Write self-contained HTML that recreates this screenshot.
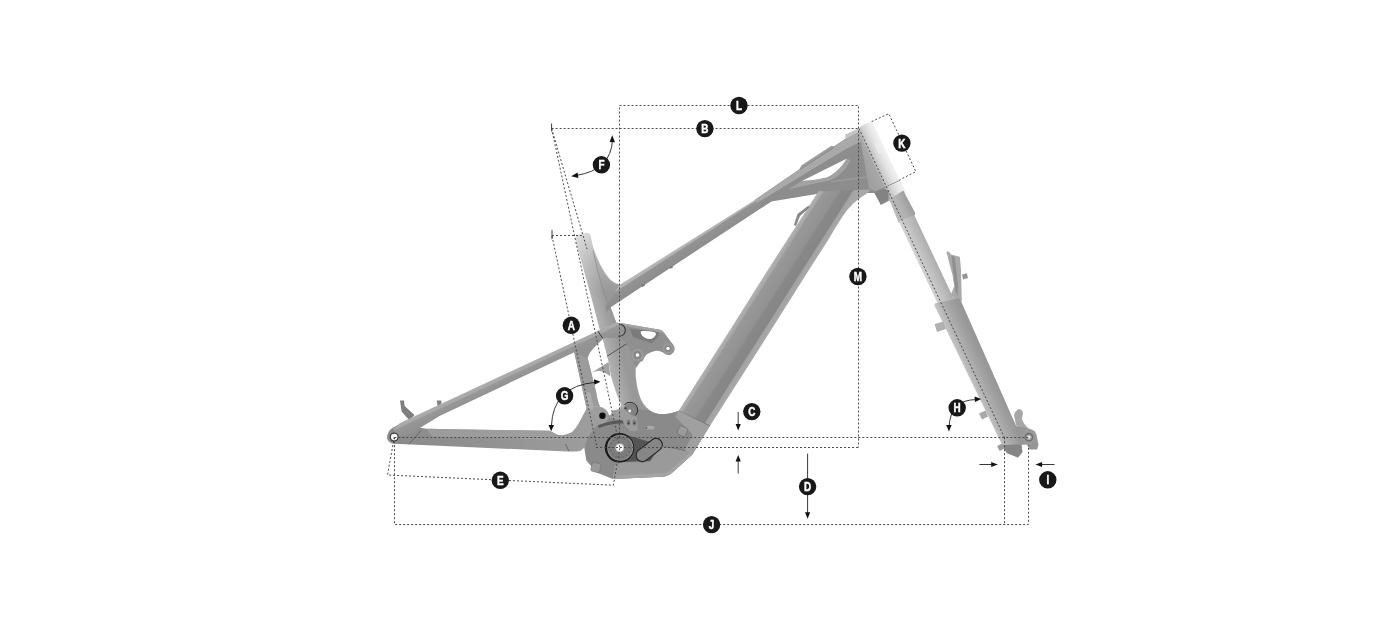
<!DOCTYPE html>
<html lang="en">
<head>
<meta charset="utf-8">
<title>Frame geometry</title>
<style>
  html, body { margin: 0; padding: 0; background: #ffffff; }
  body { width: 1400px; height: 627px; overflow: hidden; font-family: "Liberation Sans", sans-serif; }
  svg { display: block; }
  .d { fill: none; stroke: #4c4c4c; stroke-width: 1; stroke-dasharray: 2 2; }
  .s { fill: none; stroke: #222; stroke-width: 0.9; }
  .ah { fill: #111; }
  .lb circle { fill: #181818; }
  .lb text { fill: #fff; stroke: #fff; stroke-width: 0.45px; font-family: "Liberation Sans", sans-serif; font-weight: bold; font-size: 12.4px; text-anchor: middle; }
</style>
</head>
<body>
<svg width="1400" height="627" viewBox="0 0 1400 627">
  <defs>
    <linearGradient id="gHead" gradientUnits="userSpaceOnUse" x1="875" y1="191.2" x2="899.5" y2="179.6">
      <stop offset="0" stop-color="#a0a0a0"/>
      <stop offset="0.37" stop-color="#a8a8a8"/>
      <stop offset="0.44" stop-color="#bebebe"/>
      <stop offset="0.62" stop-color="#d6d6d6"/>
      <stop offset="0.82" stop-color="#e8e8e8"/>
      <stop offset="1" stop-color="#f2f2f2"/>
    </linearGradient>
    <linearGradient id="gDown" gradientUnits="userSpaceOnUse" x1="748.9" y1="300" x2="778.1" y2="318.6">
      <stop offset="0" stop-color="#b2b2b2"/>
      <stop offset="0.11" stop-color="#a8a8a8"/>
      <stop offset="0.15" stop-color="#989898"/>
      <stop offset="0.5" stop-color="#929292"/>
      <stop offset="0.57" stop-color="#888888"/>
      <stop offset="0.82" stop-color="#868686"/>
      <stop offset="0.86" stop-color="#a3a3a3"/>
      <stop offset="1" stop-color="#a8a8a8"/>
    </linearGradient>
    <linearGradient id="gFork" gradientUnits="userSpaceOnUse" x1="934" y1="295" x2="951.5" y2="286.8">
      <stop offset="0" stop-color="#d2d2d2"/>
      <stop offset="0.3" stop-color="#c4c4c4"/>
      <stop offset="0.7" stop-color="#b3b3b3"/>
      <stop offset="1" stop-color="#a4a4a4"/>
    </linearGradient>
    <linearGradient id="gFork2" gradientUnits="userSpaceOnUse" x1="893" y1="210" x2="910" y2="202">
      <stop offset="0" stop-color="#bcbcbc"/>
      <stop offset="0.5" stop-color="#b0b0b0"/>
      <stop offset="1" stop-color="#9c9c9c"/>
    </linearGradient>
    <linearGradient id="gLeg" gradientUnits="userSpaceOnUse" x1="956" y1="350" x2="981" y2="338.3">
      <stop offset="0" stop-color="#c4c4c4"/>
      <stop offset="0.22" stop-color="#b2b2b2"/>
      <stop offset="0.6" stop-color="#9e9e9e"/>
      <stop offset="0.86" stop-color="#959595"/>
      <stop offset="1" stop-color="#a6a6a6"/>
    </linearGradient>
    <linearGradient id="gTop" gradientUnits="userSpaceOnUse" x1="700" y1="234.5" x2="706.4" y2="244.4">
      <stop offset="0" stop-color="#b8b8b8"/>
      <stop offset="0.16" stop-color="#b0b0b0"/>
      <stop offset="0.24" stop-color="#939393"/>
      <stop offset="1" stop-color="#8d8d8d"/>
    </linearGradient>
    <linearGradient id="gStay" gradientUnits="userSpaceOnUse" x1="500" y1="376.4" x2="504.4" y2="385.8">
      <stop offset="0" stop-color="#adadad"/>
      <stop offset="0.33" stop-color="#a7a7a7"/>
      <stop offset="0.42" stop-color="#979797"/>
      <stop offset="1" stop-color="#929292"/>
    </linearGradient>
    <linearGradient id="gSeat" gradientUnits="userSpaceOnUse" x1="580" y1="262" x2="597" y2="257.5">
      <stop offset="0" stop-color="#b4b4b4"/>
      <stop offset="0.5" stop-color="#a6a6a6"/>
      <stop offset="1" stop-color="#989898"/>
    </linearGradient>
    <linearGradient id="gSeatFade" gradientUnits="userSpaceOnUse" x1="0" y1="232" x2="0" y2="292">
      <stop offset="0" stop-color="#ffffff" stop-opacity="0.62"/>
      <stop offset="0.5" stop-color="#ffffff" stop-opacity="0.25"/>
      <stop offset="1" stop-color="#ffffff" stop-opacity="0"/>
    </linearGradient>
    <linearGradient id="gChain" gradientUnits="userSpaceOnUse" x1="395" y1="0" x2="590" y2="0">
      <stop offset="0" stop-color="#8b8b8b"/>
      <stop offset="0.4" stop-color="#909090"/>
      <stop offset="1" stop-color="#9d9d9d"/>
    </linearGradient>
  </defs>

  <!-- ================= FRAME ================= -->
  <g id="frame">
    <!-- fork -->
    <g id="fork">
      <!-- crown / lower headset -->
      <path d="M873,190.5 L899.8,179.5 L903.5,187 L906.5,193 L890,200.5 L881,205 Z" fill="url(#gHead)"/>
      <path d="M874.4,192.3 L883.9,188.6 L888.7,190.9 L888.2,200.3 L880.7,204.5 L875.2,194.2 Z" fill="#838383"/>
      <path d="M874.6,191.8 L899.9,180.2" stroke="#7d7d7d" stroke-width="0.9" fill="none"/>
      <!-- upper wider section -->
      <path d="M889.2,199.5 L903.3,190.6 L915.2,213 L914.4,216 L898.8,223 Z" fill="url(#gFork2)"/>
      <!-- stanchion -->
      <path d="M898.8,221.5 L914.2,215 L957.2,306 L939.3,307 Z" fill="url(#gFork)"/>
      <!-- hose guide -->
      <path d="M946.3,251.5 L949,251.8 L951,254.5 L959.8,256.7 L961,270 L961.4,286.2 L961.8,300.6 L959,305.3 L955,300 L951,294.2 L954.3,286.2 L952.5,275 L949.5,263.9 Z" fill="#a9a9a9"/>
      <path d="M951.5,256 L954.5,256.6 L958,285 L957.5,297 L955.3,290 Z" fill="#8f8f8f"/>
      <path d="M962,274.5 L966.8,273.2 L968,278 L963.2,279.4 Z" fill="#959595"/>
      <!-- lower leg -->
      <path d="M934.5,305.5 Q934.3,303.6 936,303 L957.5,298.4 Q959.5,298.2 960.5,300 L962.2,303.8 L1016.8,427.4 L1021.3,444 L1022.4,452 L1018,457.5 L1006.8,453 L1002.3,445.2 Z" fill="url(#gLeg)"/>
      <path d="M1002.3,445.2 L1021.3,444 L1022.4,452 L1018,457.5 L1006.8,453 Z" fill="#858585"/>
      <!-- knobs -->
      <path d="M934.6,324 L943.5,321.5 L945.8,329 L937,332 Z" fill="#b0b0b0"/>
      <path d="M979,413.5 L985.5,410.5 L988,416.5 L982,419.5 Z" fill="#a8a8a8"/>
      <path d="M997.2,446 L1002,443.6 L1004.6,448.6 L999.6,451 Z" fill="#9a9a9a"/>
      <!-- lever -->
      <path d="M1014,415 Q1015,410.5 1019,409 Q1022.5,409.5 1023,413 L1021.9,419 Q1024,425 1029,428.5 L1020,431 L1016,425 Z" fill="#a6a6a6"/>
      <!-- dropout + axle -->
      <path d="M1015,426 L1029,428.8 Q1036.5,430 1037,437.5 L1038.5,445 L1037,449.5 L1029.5,449.5 L1027,444.5 L1019,445 Z" fill="#969696"/>
      <circle cx="1028.9" cy="437.2" r="7.6" fill="#9a9a9a"/>
      <circle cx="1028.9" cy="437.2" r="4.4" fill="#707070"/>
      <circle cx="1028.9" cy="437.2" r="2.8" fill="#a8a8a8"/>
      <circle cx="1028.9" cy="437.2" r="1.4" fill="#f2f2f2"/>
    </g>

    <!-- main frame -->
    <g id="main">
      <!-- seat tube + yoke -->
      <path id="seatTube" d="M575,238 Q575.5,235.5 579,234.3 L586,232.7 Q589.3,232.3 590.3,234.5 L593.5,249 L599.8,263.8 Q605,274 610,279.5 Q614,283 619.7,284.8 L610.7,307.2 L616.3,322.3 L624,335 L632,350 L635.7,364.3 L635.7,376.2 Q636.5,386 638.9,393.8 Q642,405 650,410.5 Q660,417.5 678.6,411 L700,440 L600,440 L621.3,405 L616.5,393.8 L611,376.2 L608.6,362 L602.7,339 L599.5,328.7 L592,300 Z" fill="url(#gSeat)"/>
      <path d="M573,231 L622,231 L622,292 L590,292 Z" fill="url(#gSeatFade)"/>
      <path d="M608.6,362 L591.8,372.5 Q601,368 610.4,376.6 Z" fill="#a2a2a2"/>
      <path d="M607,356.3 L626.9,343.6" stroke="#4a4a4a" stroke-width="0.9" fill="none"/>
      <path d="M593.1,249.7 C595.5,262 600,282 607.5,303" stroke="#858585" stroke-width="0.7" fill="none"/>
      <!-- top tube -->
      <path d="M604.8,307.5 L619.7,284.8 L754.9,200 L790,176 L790,190 L771.3,201.4 L610.7,307.2 L606.8,311.5 Z" fill="url(#gTop)"/>
      <path d="M641,285.6 L644.6,283.4 L645,285.6 L642.4,287 Z" fill="#7a7a7a"/>
      <path d="M669,267.6 L672.6,265.4 L673,267.4 L670.4,268.8 Z" fill="#7a7a7a"/>
      <!-- head junction -->
      <path d="M754.9,200 L799.1,169.5 L845.6,138.7 L860,131 L882,176 L875,193 L819.7,193.5 L771.3,201.6 L762,207.5 Z" fill="#8d8d8d"/>
      <path d="M754.9,200 L799.1,169.5 L845.6,138.7 L858.5,130 L862,141 L846,149 L802,175.5 L757,203 Z" fill="#a9a9a9"/>
      <path d="M799.1,169.5 L801.7,165.2 L831.4,145.8 L834.6,146.5 L833.4,148.2 L802.5,168.2 Z" fill="#9c9c9c"/>
      <path d="M800,169.6 L833.6,147.7" stroke="#7a7a7a" stroke-width="0.6" fill="none"/>
      <path d="M845.3,138.6 L845.3,134.6 L858,128.8 L860,131.5 Z" fill="#c4c4c4"/>
      <path d="M801.9,181.1 L814.6,179.8 L827.4,177.3 Q836.3,172.8 842.7,164.5 L846.5,158.8 L850.5,160 Q844,174 830.5,180.3 L815,183.4 L788,189.6 Z" fill="#a2a2a2"/>
      <path d="M801.9,181.1 L846.5,158.8 Q845,161.5 842.7,164.5 Q836.3,172.8 827.4,177.3 Q820,179 814.6,179.8 Z" fill="#ffffff"/>
      <path d="M831.2,181.6 L871,176.5" stroke="#a6a6a6" stroke-width="0.8" fill="none"/>
      <!-- down tube -->
      <path d="M818.5,191.3 L871,189.5 L866,194 Q851,203 842.8,216.3 Q836,226 828.8,239.1 L808.9,270 L771.1,330 L709.9,426 L678.9,410.6 L730,330 L767.8,270 Z" fill="url(#gDown)"/>
      <path d="M797.5,214 L808.5,205.5 L809.5,207.5 L800,216 L796,226 L794,225 Z" fill="#878787"/>
      <!-- head tube -->
      <path d="M858.6,129 Q862,124.5 868,122.8 Q871.5,122 872.8,123.2 L899.8,179.8 L875,191.4 L869,188 L864,160 Z" fill="url(#gHead)"/>
      <path d="M874.6,143.6 L877.6,142 L881.6,152.5 L878.8,154 Z" fill="#ececec"/>

      <!-- motor housing -->
      <path d="M584,446 L590,432 L598,420 L606,416 L640,409 L650,410.8 Q660,417.5 678.6,411 L709.9,425.8 L692.4,454.5 L673,472 Q668,476.5 661,476.8 L613,479 L597,472.8 L586.3,460.6 Z" fill="#8a8a8a"/>
      <path d="M678.6,411 L709.9,425.8 L692.4,454.5 L686,451 L684.4,449.5 L693,435 L675,416.5 Z" fill="#a0a0a0"/>
      <path d="M612.6,479 L614.5,466 L622,462.5 L650,462 L662,446.3 L686,451 L692.4,454.5 L673,472 Q668,476.5 661,476.8 Z" fill="#9a9a9a"/>
      <path d="M613,479 L661,476.8 Q668,476.5 673,472 L692.4,454.5 L689.5,453 L671,469.5 Q667,473 660,473.5 L613.3,475.6 Z" fill="#a4a4a4"/>
      <path d="M678.9,410.6 L709.9,425.8" stroke="#6a6a6a" stroke-width="0.7" fill="none"/>

      <!-- rocker link -->
      <path d="M620.6,323 L660,329.7 Q662,330 663.5,332 L674,345.8 Q675.5,349.5 673.4,352.5 Q671,355.5 668.3,355.1 Q665,354.5 663,352.5 Q659,350 654.8,351 Q650,352 646.5,354.6 L644,358 Q643,362 640.3,361.8 L636,368 L631,357 L630.9,351.5 L625.7,342.1 L617.4,338 Z" fill="#8f8f8f"/>
      <path d="M620.6,323 L660,329.7 Q662,330 663.5,332 L665.5,334.6 L661,332.4 L622,325.6 Z" fill="#a4a4a4"/>
      <path d="M629.9,328.7 L658.9,332.3 Q660,337 651.7,343.2 L633,337 Z" fill="#7b7b7b"/>
      <path d="M640.8,331.3 Q647,330.6 654.8,332.3 Q656.6,333.4 655.8,334.9 Q654,338 650.6,339 Q647.5,339.2 645.4,338 Q641.5,336 640.8,333.3 Z" fill="#ffffff"/>
      <circle cx="668" cy="348.4" r="5.3" fill="#9b9b9b"/>
      <circle cx="668" cy="348.4" r="3.4" fill="#868686"/>
      <circle cx="637.5" cy="355.1" r="6.3" fill="#9b9b9b"/>
      <circle cx="637.5" cy="355.1" r="4" fill="#868686"/>
      <circle cx="668" cy="348.4" r="1.7" fill="#ffffff"/>
      <circle cx="637.5" cy="355.1" r="1.8" fill="#ffffff"/>
    </g>

    <!-- rear triangle -->
    <g id="rear">
      <path d="M400,400.6 L404,400.6 L404.6,406 L414.5,415 L409.5,420.5 L401.6,411.5 Z" fill="#7e7e7e"/>
      <path d="M436.8,400.4 L441.4,400.4 L441.2,406 L437.6,406.5 Z" fill="#808080"/>
      <!-- chainstay + yoke -->
      <path d="M387,438 Q387,431.5 393,427.5 L400,424 L419,427.6 L426.3,428.7 L549.5,430.8 L557.4,434.7 L562.2,435.3 Q568,434.5 571.8,432.3 Q576,428.5 579,422.7 L586.1,409.6 L586.2,406.5 L599,406.5 Q607,408 609,415 Q609.5,421 604,423.5 L596.5,426 Q592,432 588.5,435.9 L583.8,447.9 Q580.5,451.6 576.6,451.4 L567,451.4 L394.4,443.8 Q388,443 387,438 Z" fill="url(#gChain)"/>
      <path d="M426.3,428.7 L549.5,430.8 L557.4,434.7 L558.5,440 L432,436.5 Z" fill="#a0a0a0" opacity="0.75"/>
      <path d="M408.7,444.3 L420.7,431.1" stroke="#555" stroke-width="0.7" fill="none"/>
      <path d="M565.5,444 L569,451.3" stroke="#555" stroke-width="0.7" fill="none"/>
      <!-- seat stay + strut -->
      <path d="M393.5,429 L400,423 L614.7,323 Q620,321.5 623.5,325.5 Q626.5,331 622.5,335.5 Q619,338.5 612,337.8 L603.5,338.3 L595.8,345.9 Q590,351 587.6,357.9 L596.5,393.8 Q597.5,402 600,406.5 L586.2,406.5 L574.3,352.3 L440,415.7 L419,428.5 L410,434 L396,436 Z" fill="url(#gStay)"/>
      <path d="M574.3,352.3 L587.6,357.9 L596.5,393.8 Q597.5,402 600,406.5 L586.2,406.5 Z" fill="#9b9b9b"/>
      <rect x="586.6" y="392" width="5.6" height="18" rx="2.6" transform="rotate(-12 589.4 401)" fill="#adadad"/>
      <path d="M597.9,331.1 L602.7,338.3" stroke="#3a3a3a" stroke-width="1" fill="none"/>
      <path d="M620.5,324.4 A5.9,5.9 0 0 1 618.3,336.1" stroke="#3a3a3a" stroke-width="1.1" fill="none"/>
      <!-- axle -->
      <circle cx="394.2" cy="437.1" r="4.6" fill="#3c3c3c"/>
      <circle cx="394.2" cy="437.1" r="3.3" fill="#f6f6f6"/>
    </g>

    <!-- BB + hardware -->
    <g id="bb">
      <!-- dark wedge -->
      <path d="M621.3,433.4 L647.6,441.3 L661,444 L650,461 L639.7,461.3 L621.3,462.1 Z" fill="#555555"/>
      <!-- pill -->
      <g transform="translate(649.2,450) rotate(-38)">
        <rect x="-15" y="-6.3" width="30" height="12.6" rx="6.3" ry="6.3" fill="#868686" stroke="#2a2a2a" stroke-width="1.2"/>
      </g>
      <path d="M661.2,446.5 L675,448.2 L686,451" stroke="#6c6c6c" stroke-width="0.7" fill="none"/>
      <!-- BB -->
      <circle cx="619.5" cy="447.8" r="14.7" fill="#1c1c1c"/>
      <circle cx="620.2" cy="447.8" r="13" fill="#9a9a9a"/>
      <circle cx="620.2" cy="447.8" r="12.2" fill="#7c7c7c"/>
      <circle cx="620.2" cy="447.8" r="9.6" fill="none" stroke="#5e5e5e" stroke-width="1.1" stroke-dasharray="1 2.77"/>
      <circle cx="619.8" cy="447.8" r="4.6" fill="#b8b8b8"/>
      <circle cx="619.8" cy="447.8" r="3.5" fill="#ffffff"/>
      <!-- bolts -->
      <rect x="591.5" y="463" width="9" height="9" rx="2" transform="rotate(12 596 467)" fill="#9a9a9a" stroke="#757575" stroke-width="0.6"/>
      <rect x="678" y="426.5" width="9" height="9" rx="2" transform="rotate(25 682 431)" fill="#9b9b9b" stroke="#6f6f6f" stroke-width="0.7"/>
      <!-- bump -->
      <rect x="645.5" y="426" width="9" height="3.6" rx="1.8" fill="#a8a8a8"/>
      <circle cx="646.4" cy="427.8" r="1" fill="#666"/>
      <!-- upper pivot -->
      <circle cx="630.5" cy="410.2" r="7" fill="#828282"/>
      <path d="M624.5,404.6 A7.2,7.2 0 1 1 635.5,415.4" stroke="#2e2e2e" stroke-width="1" fill="none"/>
      <!-- shadow under bracket -->
      <path d="M597.8,425.3 Q610,420.5 622.5,420 L623.5,423.5 Q611,423 599,428 Z" fill="#5a5a5a"/>
      <!-- bracket -->
      <path d="M608.9,418.1 L612.9,410.6 L623.3,408.6 L629.7,414.1 L637.2,417.3 L637.6,430.5 L630.5,430.9 L624.5,425.3 L623.3,420.5 L619.3,419.7 Z" fill="#9c9c9c"/>
      <rect x="626.7" y="419.6" width="3.6" height="6" rx="1.7" fill="#7e7e7e"/>
      <rect x="632.6" y="419.6" width="3.6" height="6" rx="1.7" fill="#7e7e7e"/>
      <circle cx="628.5" cy="423.2" r="1" fill="#3c3c3c"/>
      <circle cx="634.4" cy="423.2" r="1" fill="#3c3c3c"/>
      <circle cx="625.5" cy="408.2" r="0.9" fill="#222"/>
      <circle cx="629.7" cy="411" r="1.4" fill="#f4f4f4"/>
      <!-- main pivot -->
      <circle cx="602.4" cy="415.7" r="3.2" fill="#0e0e0e"/>
    </g>
  </g>

  <!-- ================= DIMENSION LINES ================= -->
  <g id="dims">
    <!-- L -->
    <path class="d" d="M619.5,437.5 L619.5,105.5 L858.5,105.5 L858.5,447.5"/>
    <!-- B -->
    <path class="d" d="M551.6,128.5 L858.5,128.5"/>
    <path class="s" d="M551.6,123.5 L551.6,131.5" stroke-width="0.7"/>
    <!-- seat angle lines -->
    <path class="d" d="M551.6,128.5 L619.8,447.5"/>
    <path class="d" d="M551.6,128.5 L587,249"/>
    <!-- A -->
    <path class="s" d="M552,230 L552,239" stroke-width="0.7"/>
    <path class="d" d="M552,235.5 L581.8,235.5"/>
    <path class="d" d="M552,236 L597,447.5"/>
    <!-- horizontal axle line -->
    <path class="d" d="M394.3,437.5 L1029,437.5"/>
    <!-- BB line -->
    <path class="d" d="M596,447.5 L858.5,447.5"/>
    <!-- J -->
    <path class="d" d="M394.5,437.2 L394.5,524.5 L1028.5,524.5 L1028.5,445"/>
    <path class="d" d="M1004.5,437.2 L1004.5,524.5"/>
    <!-- E -->
    <path class="d" d="M394.3,437.2 L387.5,475 L613.4,485.2 L619.8,448"/>
    <!-- steering axis -->
    <path class="d" d="M859,128.5 L1004.3,437.2"/>
    <!-- K box -->
    <path class="d" d="M871.6,121.6 L888.8,113.7 L915.9,171.7 L899.6,179.8"/>

    <!-- F arc -->
    <path class="s" d="M612.5,140 Q611,170 576,175.5"/>
    <path class="ah" d="M612.2,135.3 L615,142.3 L609.6,142 Z"/>
    <path class="ah" d="M571.2,176.2 L577.6,172.6 L578.4,178 Z"/>
    <!-- G arc -->
    <path class="s" d="M595.5,382.3 Q553,386 551.4,426"/>
    <path class="ah" d="M600.5,381.8 L594.2,384.8 L594,379.2 Z"/>
    <path class="ah" d="M551.2,431.3 L548.5,425 L554,425 Z"/>
    <!-- H arc -->
    <path class="s" d="M976.5,399.6 Q950.5,399.5 949,427"/>
    <path class="ah" d="M981.2,399 L975,402 L974.6,396.5 Z"/>
    <path class="ah" d="M948.9,431.5 L946.2,425 L951.7,425 Z"/>
    <!-- C arrows -->
    <path class="s" d="M738.2,412 L738.2,425"/>
    <path class="ah" d="M738.2,430.6 L735.6,424 L740.8,424 Z"/>
    <path class="s" d="M738.2,473.5 L738.2,461"/>
    <path class="ah" d="M738.2,455 L735.6,461.6 L740.8,461.6 Z"/>
    <!-- D arrow -->
    <path class="s" d="M807.6,453.7 L807.6,513"/>
    <path class="ah" d="M807.6,518.8 L805,512.2 L810.2,512.2 Z"/>
    <!-- I arrows -->
    <path class="s" d="M979.4,464.5 L992,464.5"/>
    <path class="ah" d="M997.8,464.5 L991.2,461.9 L991.2,467.1 Z"/>
    <path class="s" d="M1054.5,464.5 L1041,464.5"/>
    <path class="ah" d="M1035.5,464.5 L1042.1,461.9 L1042.1,467.1 Z"/>
  </g>

  <!-- ================= LABELS ================= -->
  <g class="lb" style="filter: grayscale(1);">
    <g transform="translate(739,105.5)"><circle r="8.7"/><text transform="scale(0.8,1)" y="4.5">L</text></g>
    <g transform="translate(704.9,128.6)"><circle r="8.7"/><text transform="scale(0.8,1)" y="4.5">B</text></g>
    <g transform="translate(601.4,164.8)"><circle r="8.7"/><text transform="scale(0.8,1)" y="4.5">F</text></g>
    <g transform="translate(901.9,143.1)"><circle r="8.7"/><text transform="scale(0.8,1)" y="4.5">K</text></g>
    <g transform="translate(857.9,276.5)"><circle r="8.7"/><text transform="scale(0.8,1)" y="4.5">M</text></g>
    <g transform="translate(571.3,325.3)"><circle r="8.7"/><text transform="scale(0.8,1)" y="4.5">A</text></g>
    <g transform="translate(564.6,395.8)"><circle r="8.7"/><text transform="scale(0.8,1)" y="4.5">G</text></g>
    <g transform="translate(751.8,411.6)"><circle r="8.7"/><text transform="scale(0.8,1)" y="4.5">C</text></g>
    <g transform="translate(957.2,407.8)"><circle r="8.7"/><text transform="scale(0.8,1)" y="4.5">H</text></g>
    <g transform="translate(807.6,486.6)"><circle r="8.7"/><text transform="scale(0.8,1)" y="4.5">D</text></g>
    <g transform="translate(500.3,480.3)"><circle r="8.7"/><text transform="scale(0.8,1)" y="4.5">E</text></g>
    <g transform="translate(1047.8,479.8)"><circle r="8.7"/><text transform="scale(0.8,1)" y="4.5">I</text></g>
    <g transform="translate(711.6,524.6)"><circle r="8.7"/><text transform="scale(0.8,1)" y="4.5">J</text></g>
  </g>
</svg>
</body>
</html>
